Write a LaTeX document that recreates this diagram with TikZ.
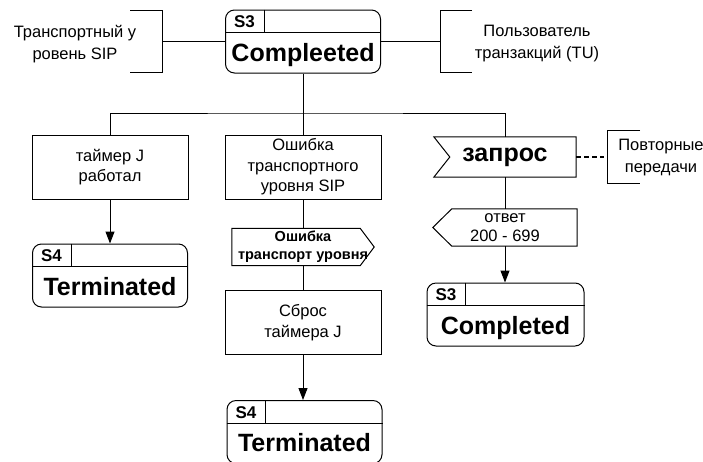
\documentclass[tikz,border=0pt]{standalone}
\usepackage{fontspec}
\setmainfont{Liberation Sans}
\usetikzlibrary{calc,arrows.meta}
\tikzset{
  x=1pt, y=-1pt,
  every node/.style={inner sep=0pt},
  ln/.style={line width=1pt},
  arr/.style={line width=1pt, -{Triangle[length=12pt,width=9pt]}},
  dashline/.style={line width=1.6pt, dash pattern=on 5pt off 3pt},
  txt/.style={align=center, font=\fontsize{16.5}{21.5}\selectfont},
  boxnode/.style={draw, line width=1pt, minimum width=156pt, minimum height=64pt, align=center, font=\fontsize{16.5}{20.5}\selectfont},
  statenode/.style={draw, line width=1pt, rounded corners=9pt, minimum height=63pt},
  lblfont/.style={font=\fontsize{17}{17}\selectfont\bfseries},
  titlefont/.style={font=\fontsize{25}{25}\selectfont\bfseries},
  signode/.style={minimum width=#1, minimum height=37pt, align=center},
}
\newcommand\umlstate[5]{%
  \node[statenode, minimum width=#3] (#1) at #2 {};
  \draw[ln] ($(#1.north west)+(0,-23pt)$) -- ($(#1.north east)+(0,-23pt)$);
  \draw[ln] ($(#1.north west)+(39pt,0)$) -- ($(#1.north west)+(39pt,-23pt)$);
  \node[lblfont, anchor=base] (#1l) at ($(#1.north west)+(19.5pt,-18pt)$) {#4};
  \node[titlefont, anchor=base] (#1t) at ($(#1.south)+(0,12.5pt)$) {#5};
}
\begin{document}
\begin{tikzpicture}
\useasboundingbox (0,0) rectangle (703,461);

% top state and its brackets
\umlstate{st0}{(303,41.5)}{155pt}{S3}{Compleeted}
\node[txt] (tl) at (75,44) {Транспортный у\\ровень SIP};
\draw[ln] (130,10) -- (162,10) -- (162,72) -- (130,72);
\coordinate (lb) at (162,41.5);
\draw[ln] (lb) -- (st0.west);
\node[txt] (tu) at (537,43.5) {Пользователь\\транзакций (TU)};
\draw[ln] (472,10) -- (440,10) -- (440,72) -- (472,72);
\coordinate (rb) at (440,41.5);
\draw[ln] (st0.east) -- (rb);

% branch boxes
\node[boxnode] (b1) at (110,167) {таймер J\\работал};
\node[boxnode] (b2) at (303,167) {Ошибка\\транспортного\\уровня SIP};

% output signal: transport error
\node[signode=142pt, font=\fontsize{14.5}{18}\selectfont\bfseries] (sig1) at (303,247) {Ошибка\\транспорт уровня};
\draw[ln] (sig1.north west) -- ($(sig1.north east)+(-14pt,0)$) -- (sig1.east) -- ($(sig1.south east)+(-14pt,0)$) -- (sig1.south west) -- cycle;

\node[boxnode] (b3) at (303,322.5) {Сброс\\таймера J};

% input signal: request
\node[signode=142pt, minimum height=40pt, font=\fontsize{25}{25}\selectfont\bfseries] (zap) at (505,157) {запрос};
\draw[ln] (zap.north west) -- (zap.north east) -- (zap.south east) -- (zap.south west) -- ($(zap.west)+(16pt,0)$) -- cycle;
\coordinate (dend) at (604,157);
\draw[dashline] (zap.east) -- (dend);
\draw[ln] (640,130) -- (607,130) -- (607,183) -- (640,183);
\node[txt] (rep) at (661,157.5) {Повторные\\передачи};

% output signal: response
\node[signode=144pt, font=\fontsize{16.5}{19}\selectfont] (otv) at (505,227.5) {ответ\\200 - 699};
\draw[ln] (otv.west) -- ($(otv.north west)+(19pt,0)$) -- (otv.north east) -- (otv.south east) -- ($(otv.south west)+(19pt,0)$) -- cycle;

% target states
\umlstate{s4a}{(110,275.5)}{155pt}{S4}{Terminated}
\umlstate{s4b}{(304.5,432)}{155pt}{S4}{Terminated}
\umlstate{s3c}{(505.5,314.5)}{157pt}{S3}{Completed}

% connectors
\coordinate (j) at (303,113);
\draw[ln] (st0.south) -- (b2.north);
\draw[ln] (b1.north) |- (j) -| (zap.north);
\draw[arr] (b1.south) -- (b1.south |- s4a.north);
\draw[ln] (b2.south) -- (sig1.north);
\draw[ln] (sig1.south) -- (b3.north);
\draw[arr] (b3.south) -- (b3.south |- s4b.north);
\draw[ln] (zap.south) -- (otv.north);
\draw[arr] (otv.south) -- (otv.south |- s3c.north);
\end{tikzpicture}
\end{document}
